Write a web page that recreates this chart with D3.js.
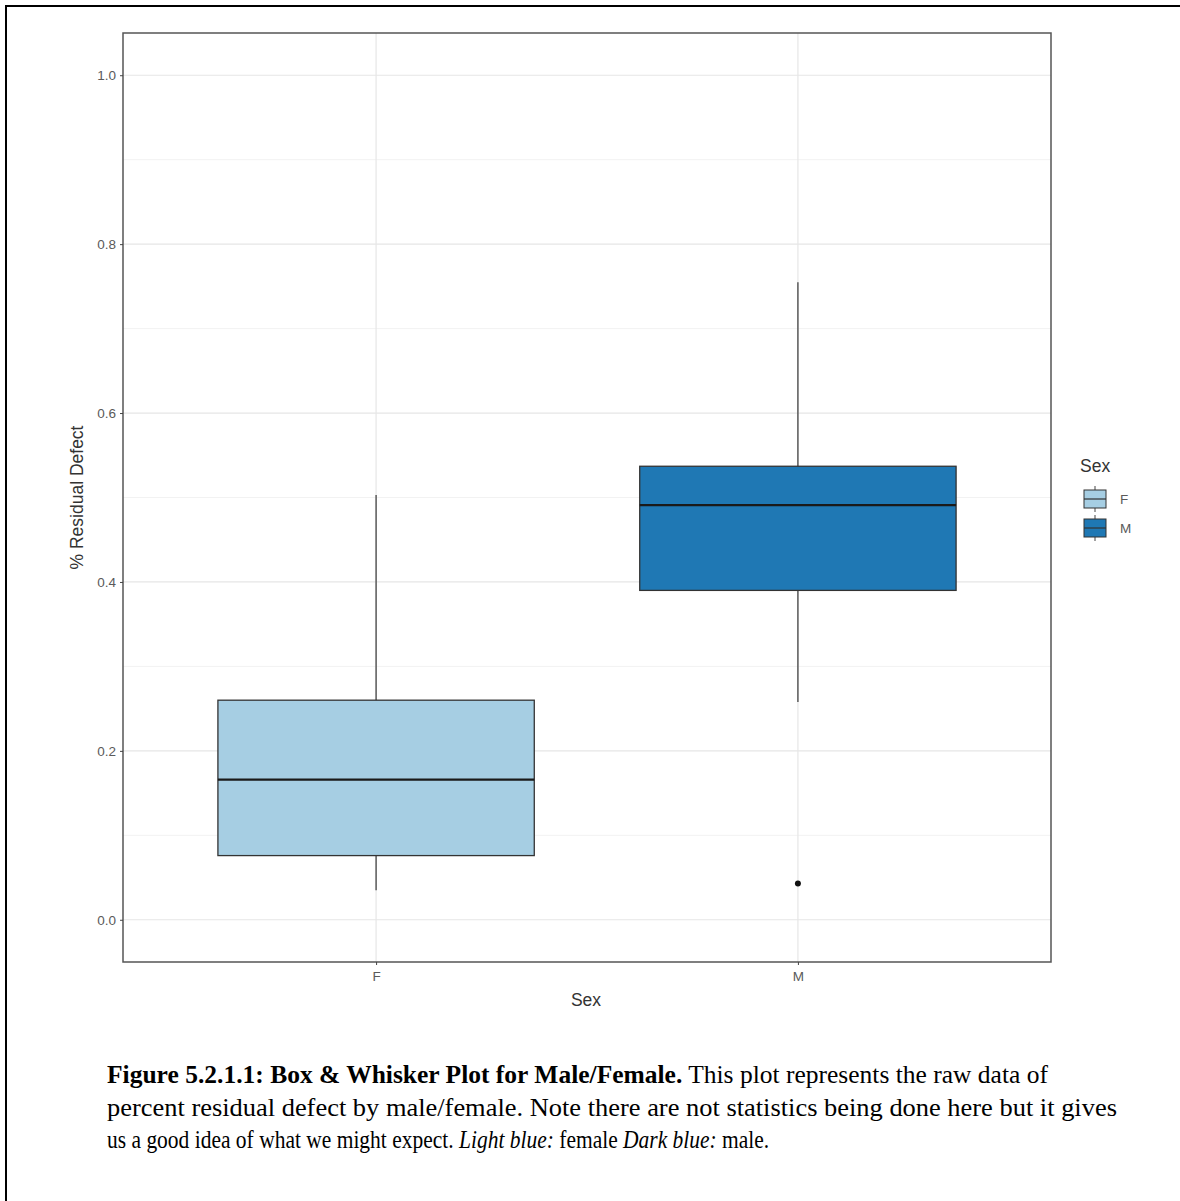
<!DOCTYPE html>
<html>
<head>
<meta charset="utf-8">
<script src="https://cdn.jsdelivr.net/npm/d3@7"></script>
<style>
  html, body { margin: 0; padding: 0; background: #fff; }
  svg { display: block; }
</style>
</head>
<body>
<svg id="chart" width="1180" height="1201"></svg>
<script>
// ---- data ----
const categories = ["F", "M"];
const whiskerLow  = [0.035, 0.258];
const q1          = [0.076, 0.390];
const medians     = [0.166, 0.491];
const q3          = [0.260, 0.537];
const whiskerHigh = [0.503, 0.755];
const outliers    = [[], [0.043]];
const fillColors  = ["#a6cee3", "#1f78b4"];
const yTicks      = [0.0, 0.2, 0.4, 0.6, 0.8, 1.0];
const yMinor      = [0.1, 0.3, 0.5, 0.7, 0.9];
const yTitle = "% Residual Defect";
const xTitle = "Sex";
const legendTitle = "Sex";

const svg = d3.select("#chart");
const sans = "Liberation Sans, Arial, sans-serif";

// outer frame
svg.append("path")
  .attr("d", "M6,1210 L6,6 L1190,6")
  .attr("fill", "none").attr("stroke", "#000").attr("stroke-width", 2);

const panel = { left: 123, top: 33, right: 1051, bottom: 962 };

const y = d3.scaleLinear().domain([-0.05, 1.05]).range([panel.bottom, panel.top]);
// discrete scale with 0.6 expansion on each side
const x = d3.scalePoint().domain(categories).range([panel.left, panel.right]).padding(0.6);
const step = x.step();
const boxW = 0.75 * step;

const g = svg.append("g");

// minor grid
g.selectAll(".minor").data(yMinor).enter().append("line")
  .attr("x1", panel.left).attr("x2", panel.right)
  .attr("y1", d => y(d)).attr("y2", d => y(d))
  .attr("stroke", "#f2f2f2").attr("stroke-width", 1);
// major grid
g.selectAll(".major").data(yTicks).enter().append("line")
  .attr("x1", panel.left).attr("x2", panel.right)
  .attr("y1", d => y(d)).attr("y2", d => y(d))
  .attr("stroke", "#e6e6e6").attr("stroke-width", 1.2);
g.selectAll(".vmajor").data(categories).enter().append("line")
  .attr("x1", d => x(d)).attr("x2", d => x(d))
  .attr("y1", panel.top).attr("y2", panel.bottom)
  .attr("stroke", "#e6e6e6").attr("stroke-width", 1.2);

// boxes
const boxes = categories.map((c, i) => ({
  c, lo: whiskerLow[i], q1: q1[i], med: medians[i], q3: q3[i], hi: whiskerHigh[i], out: outliers[i], fill: fillColors[i]
}));

const bg = g.selectAll(".box").data(boxes).enter().append("g");
bg.append("line")
  .attr("x1", d => x(d.c)).attr("x2", d => x(d.c))
  .attr("y1", d => y(d.q3)).attr("y2", d => y(d.hi))
  .attr("stroke", "#444").attr("stroke-width", 1.3);
bg.append("line")
  .attr("x1", d => x(d.c)).attr("x2", d => x(d.c))
  .attr("y1", d => y(d.q1)).attr("y2", d => y(d.lo))
  .attr("stroke", "#444").attr("stroke-width", 1.3);
bg.append("rect")
  .attr("x", d => x(d.c) - boxW / 2).attr("width", boxW)
  .attr("y", d => y(d.q3)).attr("height", d => y(d.q1) - y(d.q3))
  .attr("fill", d => d.fill).attr("stroke", "#333").attr("stroke-width", 1.3);
bg.append("line")
  .attr("x1", d => x(d.c) - boxW / 2).attr("x2", d => x(d.c) + boxW / 2)
  .attr("y1", d => y(d.med)).attr("y2", d => y(d.med))
  .attr("stroke", "#1a1a1a").attr("stroke-width", 2.2);
bg.selectAll("circle").data(d => d.out.map(v => ({ c: d.c, v }))).enter().append("circle")
  .attr("cx", d => x(d.c)).attr("cy", d => y(d.v)).attr("r", 3)
  .attr("fill", "#111");

// panel border
g.append("rect")
  .attr("x", panel.left).attr("y", panel.top)
  .attr("width", panel.right - panel.left).attr("height", panel.bottom - panel.top)
  .attr("fill", "none").attr("stroke", "#555").attr("stroke-width", 1.5);

// y axis
const yAxis = d3.axisLeft(y).tickValues(yTicks).tickSize(3).tickPadding(4).tickFormat(d3.format(".1f"));
const ya = svg.append("g").attr("transform", `translate(${panel.left},0)`).call(yAxis);
ya.select(".domain").remove();
ya.selectAll(".tick line").attr("stroke", "#444");
ya.selectAll(".tick text").attr("fill", "#5a5a5a").style("font-family", sans).style("font-size", "13.5px");

// x axis
const xa = svg.append("g").attr("transform", `translate(0,${panel.bottom})`)
  .call(d3.axisBottom(x).tickSize(3).tickPadding(6));
xa.select(".domain").remove();
xa.selectAll(".tick line").attr("stroke", "#444");
xa.selectAll(".tick text").attr("fill", "#5a5a5a").style("font-family", sans).style("font-size", "13.5px");

// axis titles
svg.append("text")
  .attr("transform", `translate(83,${(panel.top + panel.bottom) / 2}) rotate(-90)`)
  .attr("text-anchor", "middle")
  .style("font-family", sans).style("font-size", "17.5px").attr("fill", "#333")
  .text(yTitle);
svg.append("text")
  .attr("x", (panel.left + panel.right) / 2 - 1).attr("y", 1006)
  .attr("text-anchor", "middle")
  .style("font-family", sans).style("font-size", "17.5px").attr("fill", "#333")
  .text(xTitle);

// legend
const lg = svg.append("g");
lg.append("text").attr("x", 1080).attr("y", 472)
  .style("font-family", sans).style("font-size", "17.5px").attr("fill", "#333")
  .text(legendTitle);
const keyY = [499, 528];
const items = lg.selectAll(".item").data(categories).enter().append("g")
  .attr("transform", (d, i) => `translate(1084,${keyY[i]})`);
items.append("line").attr("x1", 11).attr("x2", 11).attr("y1", -13).attr("y2", 13)
  .attr("stroke", "#444").attr("stroke-width", 1);
items.append("rect").attr("x", 0).attr("y", -9).attr("width", 22).attr("height", 18)
  .attr("fill", (d, i) => fillColors[i]).attr("stroke", "#333").attr("stroke-width", 1);
items.append("line").attr("x1", 0).attr("x2", 22).attr("y1", 0).attr("y2", 0)
  .attr("stroke", "#333").attr("stroke-width", 1.2);
items.append("text").attr("x", 36).attr("y", 5)
  .style("font-family", sans).style("font-size", "13.5px").attr("fill", "#5a5a5a")
  .text(d => d);

// caption
const serif = "Liberation Serif, 'Times New Roman', serif";
function capLine(yPos, sx) {
  return svg.append("text")
    .attr("transform", `translate(107,${yPos}) scale(${sx},1)`)
    .style("font-family", serif).style("font-size", "25px").attr("fill", "#000");
}
const l1 = capLine(1083, 1.02);
l1.append("tspan").style("font-weight", "bold").text("Figure 5.2.1.1: Box & Whisker Plot for Male/Female.");
l1.append("tspan").text(" This plot represents the raw data of");
capLine(1116, 1.058)
  .text("percent residual defect by male/female. Note there are not statistics being done here but it gives");
const l3 = capLine(1148, 0.86);
l3.append("tspan").text("us a good idea of what we might expect. ");
l3.append("tspan").style("font-style", "italic").text("Light blue:");
l3.append("tspan").text(" female ");
l3.append("tspan").style("font-style", "italic").text("Dark blue:");
l3.append("tspan").text(" male.");
</script>
</body>
</html>
